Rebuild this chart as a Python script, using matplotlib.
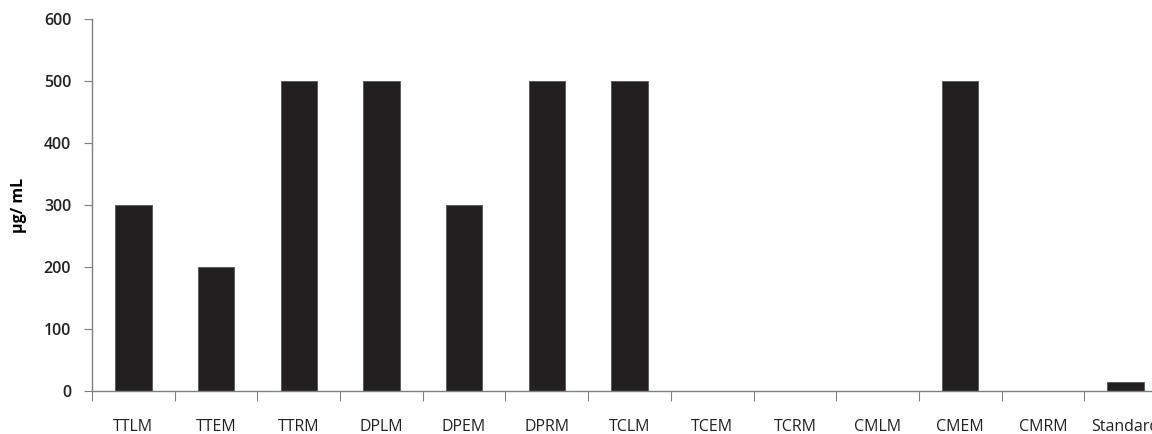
import matplotlib.pyplot as plt
import numpy as np

categorias = ['TTLM', 'TTEM', 'TTRM', 'DPLM', 'DPEM', 'DPRM', 'TCLM',
              'TCEM', 'TCRM', 'CMLM', 'CMEM', 'CMRM', 'Standard']
valores = [300, 200, 500, 500, 300, 500, 500, 0, 0, 0, 500, 0, 15]

fig = plt.figure(figsize=(11.52, 4.34), dpi=100)
# eixo passa da borda direita, como no original (Standard cortado)
ax = fig.add_axes([92/1152, 43/434, 1075/1152, 372/434])

x = np.arange(len(categorias))
ax.bar(x, valores, width=0.44, color='#231f20', edgecolor='#555555', linewidth=0.6)

ax.set_xlim(-0.5, len(categorias) - 0.5)
ax.set_ylim(0, 600)
ax.set_yticks(np.arange(0, 601, 100))

# ticks do eixo x nos limites entre categorias, rótulos no centro
ax.set_xticks(np.arange(len(categorias) + 1) - 0.5)
ax.set_xticklabels([])
ax.set_xticks(x, minor=True)
ax.set_xticklabels(categorias, minor=True, fontsize=11.5, color='#222222', family='Open Sans')
ax.tick_params(axis='x', which='minor', length=0, pad=20)
ax.tick_params(axis='x', which='major', length=7, color='#808080', direction='out')
ax.tick_params(axis='y', length=6, color='#808080', pad=9)
for lbl in ax.get_yticklabels():
    lbl.set_fontsize(11.5)
    lbl.set_fontweight('semibold')
    lbl.set_color('#222222')
    lbl.set_family('Open Sans')

for s in ['top', 'right']:
    ax.spines[s].set_visible(False)
for s in ['left', 'bottom']:
    ax.spines[s].set_color('#808080')
    ax.spines[s].set_linewidth(1.0)

ax.set_ylabel('µg/ mL', fontsize=11.5, fontweight='bold', family='Open Sans', labelpad=12)

plt.savefig('out.png', dpi=100)
